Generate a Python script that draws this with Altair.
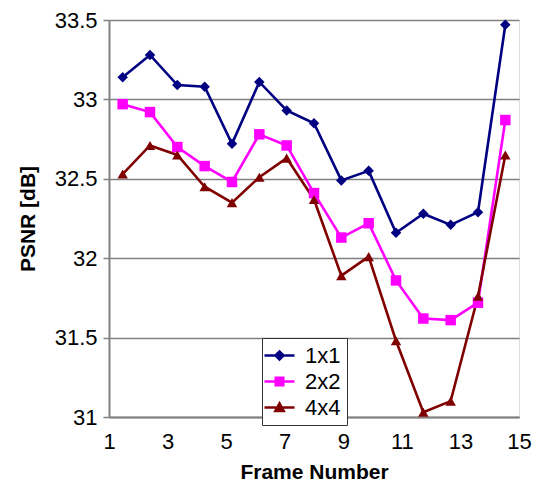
import altair as alt
import pandas as pd

frames = list(range(1, 16))
series_names = ["1x1", "2x2", "4x4"]
psnr_1x1 = [33.14, 33.28, 33.09, 33.08, 32.72, 33.11, 32.93, 32.85, 32.49, 32.55, 32.16, 32.28, 32.21, 32.29, 33.47]
psnr_2x2 = [32.97, 32.92, 32.70, 32.58, 32.48, 32.78, 32.71, 32.41, 32.13, 32.22, 31.86, 31.62, 31.61, 31.72, 32.87]
psnr_4x4 = [32.53, 32.71, 32.65, 32.45, 32.35, 32.51, 32.63, 32.37, 31.89, 32.01, 31.48, 31.03, 31.10, 31.76, 32.65]
x_ticks = [1, 3, 5, 7, 9, 11, 13, 15]
y_ticks = [31, 31.5, 32, 32.5, 33, 33.5]

colors = ["#000080", "#FF00FF", "#800000"]
shapes = ["diamond", "square", "triangle-up"]
legend_paths = [
    "M-1.5,0H1.5M-0.4,0L0,-0.4L0.4,0L0,0.4Z",
    "M-1.5,0H1.5M-0.38,-0.38H0.38V0.38H-0.38Z",
    "M-1.5,0H1.5M-0.42,0.35L0,-0.42L0.42,0.35Z",
]

rows = []
for name, vals in zip(series_names, [psnr_1x1, psnr_2x2, psnr_4x4]):
    for f, v in zip(frames, vals):
        rows.append({"frame": f, "psnr": v, "series": name})
df = pd.DataFrame(rows)

FONT = "Liberation Sans"

legend = alt.Legend(
    title=None,
    orient="none",
    legendX=153,
    legendY=318,
    strokeColor="#333333",
    fillColor="white",
    padding=6,
    symbolSize=400,
    symbolStrokeWidth=2.5,
    symbolOpacity=1,
    rowPadding=3,
    labelFontSize=22,
    labelFont=FONT,
    labelColor="black",
    labelOffset=14,
)

x = alt.X(
    "xpos:Q",
    scale=alt.Scale(domain=[1, 15], nice=False, zero=False),
    axis=alt.Axis(
        values=x_ticks,
        title="Frame Number",
        titleFontSize=21,
        titleFont=FONT,
        titleFontWeight="bold",
        titleColor="black",
        titlePadding=9,
        labelFontSize=22,
        labelFont=FONT,
        labelColor="black",
        labelPadding=14,
        tickSize=0,
        grid=False,
        domainColor="#808080",
        domainWidth=2,
        labelFlush=False,
    ),
)
y = alt.Y(
    "psnr:Q",
    scale=alt.Scale(domain=[31, 33.5], nice=False, zero=False),
    axis=alt.Axis(
        values=y_ticks,
        format="~g",
        title="PSNR [dB]",
        titleFontSize=21,
        titleFont=FONT,
        titleFontWeight="bold",
        titleColor="black",
        titlePadding=16,
        labelFontSize=22,
        labelFont=FONT,
        labelColor="black",
        labelPadding=6,
        tickSize=6,
        tickColor="#808080",
        tickWidth=1.5,
        grid=True,
        gridColor="#808080",
        gridWidth=1.5,
        domainColor="#808080",
        domainWidth=2,
    ),
)

base = alt.Chart(df).transform_calculate(
    xpos="1 + (datum.frame - 0.5) * 14 / 15"
)

layers = []
for name, col in zip(series_names, colors):
    layers.append(
        base.transform_filter(alt.datum.series == name)
        .mark_line(strokeWidth=2.6, color=col)
        .encode(x=x, y=y)
    )
for name, col, shp in zip(series_names, colors, shapes):
    layers.append(
        base.transform_filter(alt.datum.series == name)
        .mark_point(filled=True, opacity=1, size=110, shape=shp, color=col)
        .encode(x=x, y=y)
    )

legend_layer = base.mark_point(strokeWidth=2.5, opacity=0).encode(
    x=x,
    y=y,
    fill=alt.Fill("series:N", scale=alt.Scale(domain=series_names, range=colors), legend=legend),
    stroke=alt.Stroke("series:N", scale=alt.Scale(domain=series_names, range=colors), legend=legend),
    shape=alt.Shape("series:N", scale=alt.Scale(domain=series_names, range=legend_paths), legend=legend),
)
layers.append(legend_layer)

chart = (
    alt.layer(*layers)
    .properties(
        width=410,
        height=397,
        autosize=alt.AutoSizeParams(type="none"),
        padding={"left": 101, "top": 12, "right": 14, "bottom": 64},
    )
    .configure_view(stroke="#808080", strokeWidth=1.5)
    .configure(background="white")
)

chart.save("out.html", embed_options={"renderer": "svg", "actions": False})
